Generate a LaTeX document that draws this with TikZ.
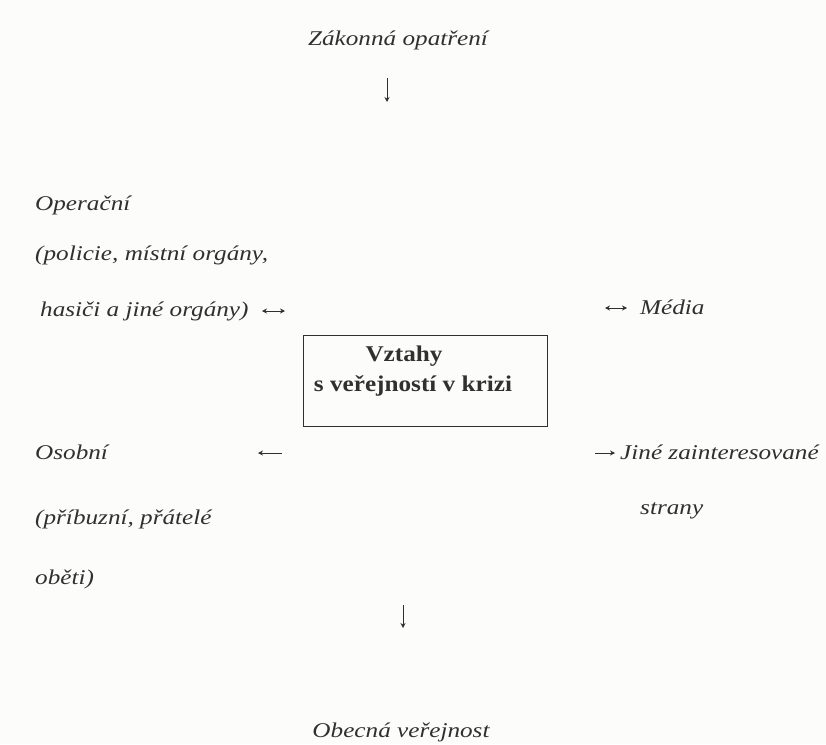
\documentclass[tikz,border=0pt]{standalone}
\usepackage{fontspec}
\setmainfont{Liberation Serif}
\newfontfamily\labelit[FakeStretch=1.2]{Liberation Serif Italic}
\newfontfamily\labelbf[FakeStretch=1.12]{Liberation Serif Bold}
\usetikzlibrary{arrows.meta}
\definecolor{ink}{HTML}{303030}
\definecolor{paper}{HTML}{FCFCFB}
\tikzset{
  lbl/.style={inner sep=0pt, text=ink, font=\labelit\fontsize{21}{24}\selectfont},
  lblw/.style={lbl, anchor=mid west},
  hub/.style={draw=ink, line width=1pt, inner sep=0pt},
  hubtext/.style={inner sep=0pt, text=ink, font=\labelbf\fontsize{22.5}{26}\selectfont},
  tip/.style={Stealth[length=5pt,width=5pt]},
  tick/.style={draw=ink, line width=0.9pt, -{Stealth[length=5pt,width=5pt]}},
  ticktwo/.style={draw=ink, line width=0.9pt, {Stealth[length=5pt,width=5pt]}-{Stealth[length=5pt,width=5pt]}}
}
\begin{document}
\begin{tikzpicture}[x=1pt,y=-1pt]
  \fill[paper] (0,0) rectangle (826,744);
  \useasboundingbox (0,0) rectangle (826,744);

  % central box
  \node[hub, minimum width=244pt, minimum height=91pt] (crisis) at (425,380.5) {};
  \node[hubtext] (crisisA) at (404,356) {Vztahy};
  \node[hubtext] (crisisB) at (413,386) {s veřejností v krizi};

  % top
  \node[lbl, anchor=mid] (law) at (398,43) {Zákonná opatření};
  \coordinate (lawA) at (387,78);
  \coordinate (lawB) at (387,102);
  \draw[tick] (lawA) -- (lawB);

  % upper left
  \node[lblw] (oper1) at (35,208) {Operační};
  \node[lblw] (oper2) at (35,258) {(policie, místní orgány,};
  \node[lblw] (oper3) at (40,314) {hasiči a jiné orgány)};
  \coordinate (operA) at (262,311);
  \coordinate (operB) at (285,311);
  \draw[ticktwo] (operA) -- (operB);

  % upper right
  \coordinate (mediaA) at (605,308);
  \coordinate (mediaB) at (627,308);
  \draw[ticktwo] (mediaA) -- (mediaB);
  \node[lblw] (media) at (640,312) {Média};

  % lower left
  \node[lblw] (pers1) at (35,457) {Osobní};
  \node[lblw] (pers2) at (35,522) {(příbuzní, přátelé};
  \node[lblw] (pers3) at (35,582) {oběti)};
  \coordinate (persA) at (282,453);
  \coordinate (persB) at (258,453);
  \draw[tick] (persA) -- (persB);

  % lower right
  \coordinate (otherA) at (595,453);
  \coordinate (otherB) at (615,453);
  \draw[tick] (otherA) -- (otherB);
  \node[lblw] (other1) at (620,457) {Jiné zainteresované};
  \node[lblw] (other2) at (640,512) {strany};

  % bottom
  \coordinate (pubA) at (403,605);
  \coordinate (pubB) at (403,628);
  \draw[tick] (pubA) -- (pubB);
  \node[lbl, anchor=mid] (public) at (401,735) {Obecná veřejnost};
\end{tikzpicture}
\end{document}
